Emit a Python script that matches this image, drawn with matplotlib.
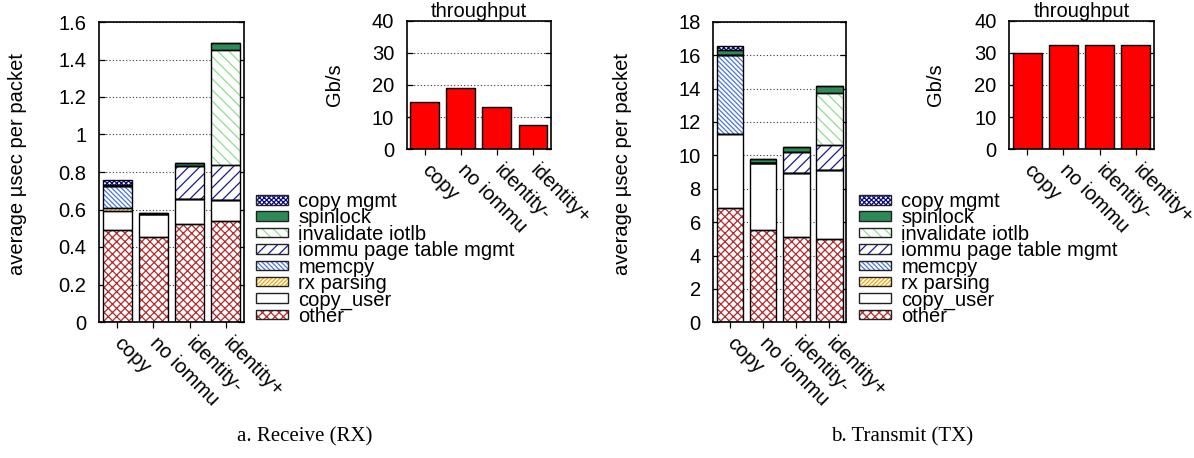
import matplotlib
matplotlib.use("Agg")
import matplotlib.pyplot as plt
from matplotlib.patches import Patch
from matplotlib.ticker import FuncFormatter, MultipleLocator
import numpy as np

plt.rcParams['font.family'] = ['Liberation Sans', 'DejaVu Sans']
plt.rcParams['hatch.linewidth'] = 0.9

FS = 14.5

categories = ['copy', 'no iommu', 'identity-', 'identity+']
components = ['other', 'copy_user', 'rx parsing', 'memcpy',
              'iommu page table mgmt', 'invalidate iotlb', 'spinlock', 'copy mgmt']

# RX (usec per packet)
rx_other = [0.49, 0.455, 0.524, 0.537]
rx_copy_user = [0.10, 0.123, 0.134, 0.112]
rx_rx_parsing = [0.02, 0.0, 0.0, 0.0]
rx_memcpy = [0.115, 0.0, 0.0, 0.0]
rx_iommu_pt = [0.0, 0.0, 0.176, 0.187]
rx_invalidate = [0.0, 0.0, 0.0, 0.616]
rx_spinlock = [0.005, 0.004, 0.016, 0.036]
rx_copy_mgmt = [0.025, 0.0, 0.0, 0.0]

# TX (usec per packet)
tx_other = [6.84, 5.54, 5.08, 4.98]
tx_copy_user = [4.46, 4.0, 3.86, 4.16]
tx_rx_parsing = [0.0, 0.0, 0.0, 0.0]
tx_memcpy = [4.7, 0.0, 0.0, 0.0]
tx_iommu_pt = [0.0, 0.0, 1.24, 1.46]
tx_invalidate = [0.0, 0.0, 0.0, 3.14]
tx_spinlock = [0.33, 0.24, 0.29, 0.39]
tx_copy_mgmt = [0.2, 0.0, 0.0, 0.0]

# Throughput (Gb/s)
rx_throughput = [14.6, 19.1, 13.2, 7.6]
tx_throughput = [29.9, 32.4, 32.4, 32.3]

rx_stack = [rx_other, rx_copy_user, rx_rx_parsing, rx_memcpy,
            rx_iommu_pt, rx_invalidate, rx_spinlock, rx_copy_mgmt]
tx_stack = [tx_other, tx_copy_user, tx_rx_parsing, tx_memcpy,
            tx_iommu_pt, tx_invalidate, tx_spinlock, tx_copy_mgmt]

styles = {
    'other': dict(face='white', hc='#b52a2a', hatch='xxxx'),
    'copy_user': dict(face='white', hc=None, hatch=None),
    'rx parsing': dict(face='white', hc='#f5a800', hatch='////////'),
    'memcpy': dict(face='white', hc='#4a74e8', hatch='\\' * 7),
    'iommu page table mgmt': dict(face='white', hc='#1a1a9a', hatch='///'),
    'invalidate iotlb': dict(face='white', hc='#8fe08f', hatch='\\\\\\'),
    'spinlock': dict(face='#2e8b57', hc=None, hatch=None),
    'copy mgmt': dict(face='white', hc='#0a0a80', hatch='xxxxxxx'),
}

W, H = 1194, 458
fig = plt.figure(figsize=(W / 100, H / 100), dpi=100)


def fr(x0, y0, x1, y1):
    return [x0 / W, 1 - y1 / H, (x1 - x0) / W, (y1 - y0) / H]


def fmt(v, pos):
    return '%g' % round(v, 3)


def style_axes(ax, ymax, step):
    ax.set_ylim(0, ymax)
    ax.set_xlim(-0.5, 3.5)
    ax.yaxis.set_major_locator(MultipleLocator(step))
    ax.yaxis.set_major_formatter(FuncFormatter(fmt))
    ax.tick_params(axis='y', direction='in', length=4, width=0.9, right=True,
                   labelsize=FS, pad=9)
    ax.tick_params(axis='x', direction='out', length=4, width=0.9,
                   labelsize=FS, pad=9)
    ax.set_xticks(range(len(categories)))
    ax.set_xticklabels(categories, rotation=-45, ha='left', va='center',
                       rotation_mode='anchor')
    for s in ax.spines.values():
        s.set_linewidth(1.2)
    ax.set_axisbelow(True)
    ax.yaxis.grid(True, linestyle=(0, (1, 2)), color='#333333', linewidth=0.8)


def stacked(ax, stack):
    x = np.arange(len(categories))
    bottom = np.zeros(len(categories))
    handles = []
    for name, vals in zip(components, stack):
        st = styles[name]
        vals = np.array(vals)
        if st['hatch']:
            ax.bar(x, vals, 0.8, bottom=bottom, color=st['face'],
                   edgecolor=st['hc'], hatch=st['hatch'], linewidth=0, zorder=2)
        else:
            ax.bar(x, vals, 0.8, bottom=bottom, color=st['face'],
                   linewidth=0, zorder=2)
        ax.bar(x, vals, 0.8, bottom=bottom, fill=False, edgecolor='black',
               linewidth=1.0, zorder=3)
        bottom = bottom + vals
        if st['hatch']:
            h = (Patch(facecolor=st['face'], edgecolor=st['hc'], hatch=st['hatch'], linewidth=0),
                 Patch(fill=False, edgecolor='#222222', linewidth=1.0))
        else:
            h = (Patch(facecolor=st['face'], linewidth=0),
                 Patch(fill=False, edgecolor='#222222', linewidth=1.0))
        handles.append(h)
    return handles


def throughput(ax, vals):
    x = np.arange(len(categories))
    ax.bar(x, vals, 0.8, color='#ff0000', edgecolor='black', linewidth=1.0, zorder=2)
    ax.set_title('throughput', fontsize=FS, pad=1)


panels = [
    dict(stack=rx_stack, tp=rx_throughput, ymax=1.6, step=0.2,
         sbox=(99, 22, 244, 322), tbox=(406.7, 20.7, 551, 149.3),
         ylab_x=18, gbs_x=335, leg_x=256, cap='a. Receive (RX)', cap_x=305),
    dict(stack=tx_stack, tp=tx_throughput, ymax=18, step=2,
         sbox=(713.3, 21.7, 846, 322.3), tbox=(1009, 20.7, 1154, 149.3),
         ylab_x=622, gbs_x=936, leg_x=859, cap='b. Transmit (TX)', cap_x=902),
]

for p in panels:
    ax = fig.add_axes(fr(*p['sbox']))
    handles = stacked(ax, p['stack'])
    style_axes(ax, p['ymax'], p['step'])
    fig.text(p['ylab_x'] / W, 1 - 164 / H, 'average µsec per packet', rotation=90,
             ha='center', va='center', fontsize=FS)

    fig.legend(handles[::-1], components[::-1], loc='upper left',
               bbox_to_anchor=(p['leg_x'] / W, 1 - 192 / H),
               frameon=False, borderpad=0, borderaxespad=0, fontsize=FS,
               handlelength=1.6, handleheight=0.35, handletextpad=0.5,
               labelspacing=-0.13)

    ax2 = fig.add_axes(fr(*p['tbox']))
    throughput(ax2, p['tp'])
    style_axes(ax2, 40, 10)
    fig.text(p['gbs_x'] / W, 1 - 85 / H, 'Gb/s', rotation=90,
             ha='center', va='center', fontsize=FS)

    fig.text(p['cap_x'] / W, 1 - 437 / H, p['cap'], ha='center', va='center',
             fontsize=15, family=['Liberation Serif', 'DejaVu Serif'])

fig.savefig('out.png', dpi=100)
